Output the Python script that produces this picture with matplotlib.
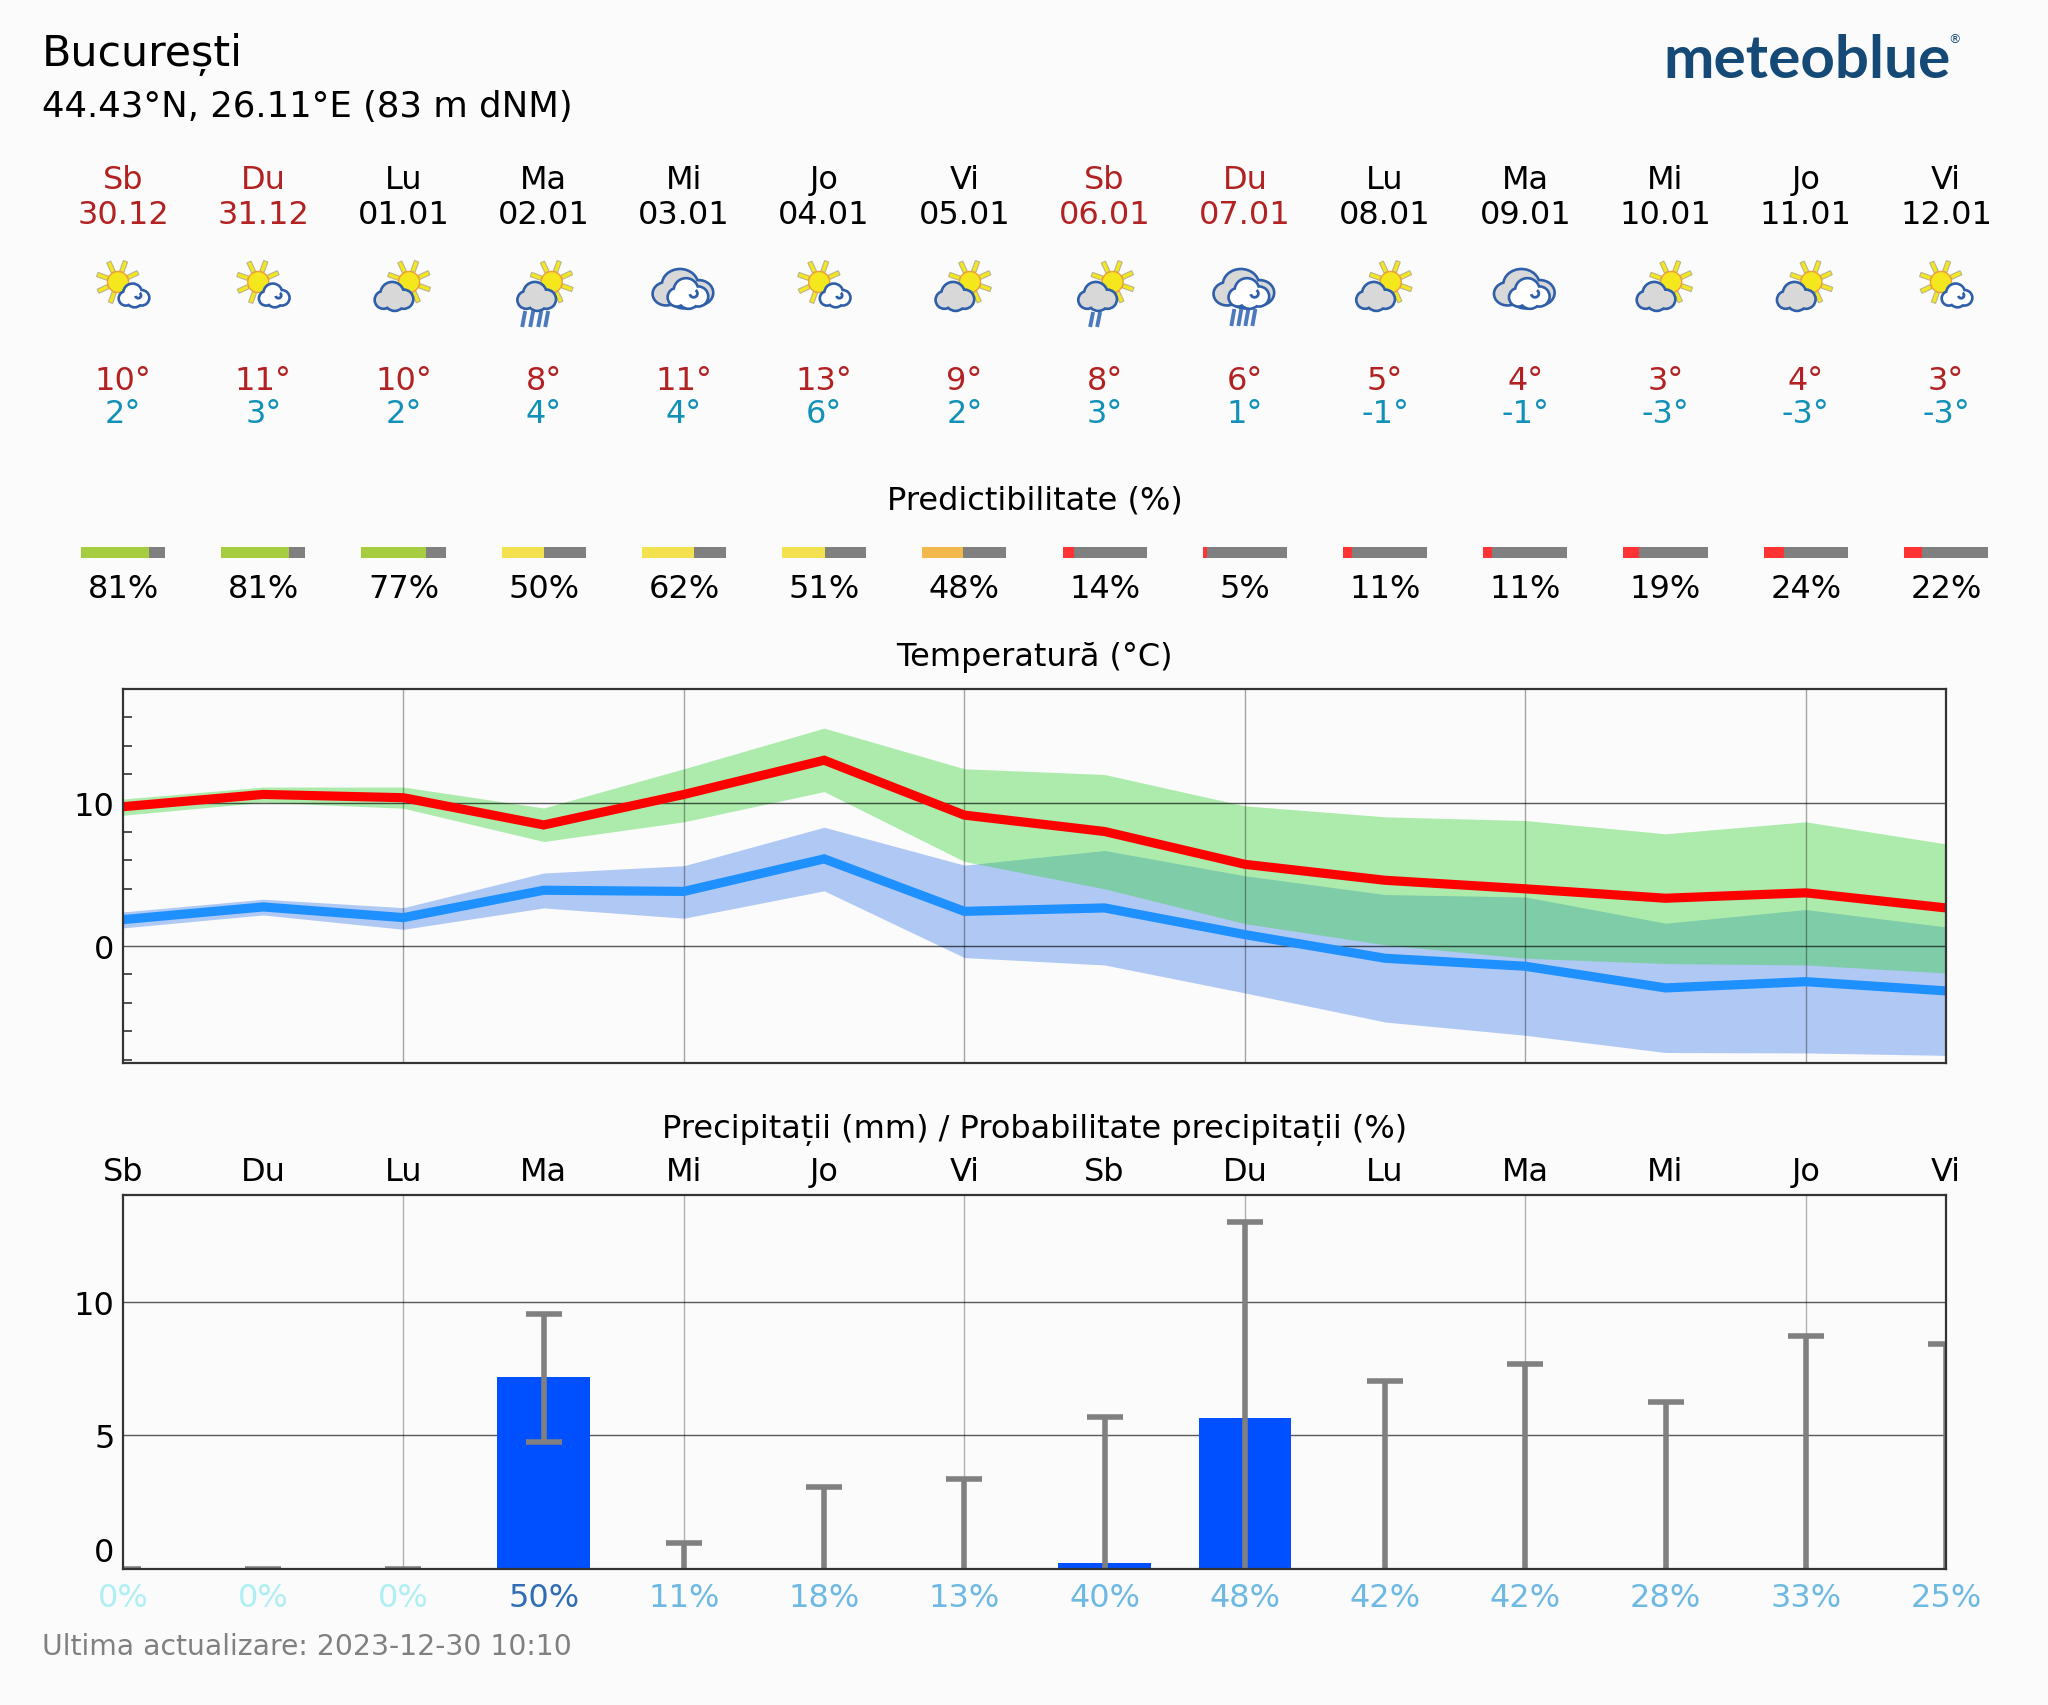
import numpy as np
import matplotlib
matplotlib.use("Agg")
import matplotlib.pyplot as plt
from matplotlib.patches import Circle, Polygon, Ellipse, Arc
from matplotlib.transforms import blended_transform_factory

W, H, DPI = 2048, 1706, 200
BG = "#FBFBFB"

day_names = ["Sb","Du","Lu","Ma","Mi","Jo","Vi","Sb","Du","Lu","Ma","Mi","Jo","Vi"]
dates = ["30.12","31.12","01.01","02.01","03.01","04.01","05.01","06.01","07.01","08.01","09.01","10.01","11.01","12.01"]
weekend = [True,True,False,False,False,False,False,True,True,False,False,False,False,False]
icons = ["sw","sw","sg","sgr3","cc","sw","sg","sgr2","ccr","sg","cc","sg","sg","sw"]
hi_labels = [10,11,10,8,11,13,9,8,6,5,4,3,4,3]
lo_labels = [2,3,2,4,4,6,2,3,1,-1,-1,-3,-3,-3]
predict = [81,81,77,50,62,51,48,14,5,11,11,19,24,22]
rain_prob = [0,0,0,50,11,18,13,40,48,42,42,28,33,25]

tmax = [9.74,10.6,10.37,8.46,10.6,13.0,9.15,8.0,5.7,4.58,3.98,3.32,3.7,2.64]
tmax_hi = [10.28,11.12,11.12,9.65,12.4,15.25,12.4,12.0,9.8,9.03,8.77,7.84,8.68,7.13]
tmax_lo = [9.14,10.05,9.63,7.3,8.68,10.8,5.9,3.98,1.54,0.05,-0.89,-1.26,-1.36,-1.92]
tmin = [1.82,2.71,1.96,3.88,3.8,6.08,2.4,2.64,0.77,-0.89,-1.45,-2.97,-2.53,-3.18]
tmin_hi = [2.36,3.25,2.66,5.09,5.6,8.3,5.64,6.67,4.9,3.58,3.41,1.57,2.53,1.31]
tmin_lo = [1.24,2.15,1.14,2.64,1.92,3.84,-0.84,-1.36,-3.32,-5.36,-6.29,-7.5,-7.53,-7.7]

precip = [0,0,0,7.2,0,0,0,0.22,5.65,0,0,0,0,0]
precip_lo = [0,0,0,4.75,0,0,0,0,0,0,0,0,0,0]
precip_hi = [0,0,0,9.55,0.95,3.05,3.35,5.7,13.0,7.05,7.7,6.25,8.75,8.45]

plt.rcParams["font.family"] = ["DejaVu Sans"]
plt.rcParams["font.size"] = 11.5
fig = plt.figure(figsize=(W/DPI, H/DPI), dpi=DPI, facecolor=BG)

L, R = 123, 1946
def axes_px(x0, y0, x1, y1, **kw):
    return fig.add_axes([x0/W, 1-y1/H, (x1-x0)/W, (y1-y0)/H], **kw)

days = np.arange(14)
XS = (R-L)/13

# header layer: x in day index, y in pixels
hdr = axes_px(0, 0, W, H, facecolor="none")
hdr.set_xlim(-L/XS, (W-L)/XS); hdr.set_ylim(H, 0); hdr.axis("off")
RED, LOW = "#B22222", "#1190B8"
FS = 11.5
for i in days:
    c = RED if weekend[i] else "black"
    hdr.text(i, 180, day_names[i], ha="center", va="center", color=c, fontsize=FS)
    hdr.text(i, 215, dates[i], ha="center", va="center", color=c, fontsize=FS)
    hdr.text(i, 381, f"{hi_labels[i]}°", ha="center", va="center", color=RED, fontsize=FS)
    hdr.text(i, 414, f"{lo_labels[i]}°", ha="center", va="center", color=LOW, fontsize=FS)
    hdr.text(i, 589, f"{predict[i]}%", ha="center", va="center", color="black", fontsize=FS)

def pcol(p):
    if p >= 70: return "#A6CC3F"
    if p >= 50: return "#F3E14F"
    if p >= 30: return "#F2B84B"
    return "#FF3333"
BW = 0.6
pred = np.array(predict)/100
hdr.barh([553.5]*14, BW*pred, 11, left=days-BW/2, color=[pcol(p) for p in predict], linewidth=0)
hdr.barh([553.5]*14, BW*(1-pred), 11, left=days-BW/2+BW*pred, color="#808080", linewidth=0)

LX = (42-L)/XS
hdr.text(LX, 54.5, "București", ha="left", va="center", fontsize=15.4)
hdr.text(LX, 106.5, "44.43°N, 26.11°E (83 m dNM)", ha="left", va="center", fontsize=12.8)
hdr.text(LX, 1647.5, "Ultima actualizare: 2023-12-30 10:10", ha="left", va="center", fontsize=10.2, color="#808080")
hdr.text(6.5, 500.5, "Predictibilitate (%)", ha="center", va="center", fontsize=FS)
hdr.text(6.5, 657.5, "Temperatură (°C)", ha="center", va="center", fontsize=FS)
hdr.text(6.5, 1130.5, "Precipitații (mm) / Probabilitate precipitații (%)", ha="center", va="center", fontsize=FS)
hdr.text((1663-L)/XS, 78, "meteoblue", ha="left", va="baseline", fontsize=21.7, color="#154A77",
         family="Lato", fontweight="bold")
hdr.text((1954-L)/XS, 40, "®", ha="center", va="center", fontsize=4.5, color="#154A77")

# icons layer in pixels
ic = axes_px(0, 0, W, H, facecolor="none")
ic.set_xlim(0, W); ic.set_ylim(H, 0); ic.axis("off"); ic.set_aspect("equal")
EDGE = "#2F5FA8"

def sun(cx, cy):
    for a in np.arange(8)*45 + 20:
        t = np.radians(a)
        d = np.array([np.cos(t), np.sin(t)]); n = np.array([-d[1], d[0]])
        c = np.array([cx, cy])
        p = [c+d*11+n*2.2, c+d*22+n*2.2, c+d*22-n*2.2, c+d*11-n*2.2]
        ic.add_patch(Polygon(p, closed=True, fc="#F5E71E", ec="#B9B48C", lw=0.4, zorder=2))
    ic.add_patch(Circle((cx, cy), 10.5, fc="#F5E71E", ec="#F0A030", lw=0.5, zorder=3))

def cloud(cx, cy, w, h, fill, z=4, curl=False, ky=1.0):
    blobs = [(-0.29, 0.17, 0.21), (-0.05, -0.1, 0.29), (0.27, 0.14, 0.23), (0.02, 0.2, 0.25)]
    pats = [(cx+bx*w, cy+by*h, r*w) for bx, by, r in blobs]
    for x, y, r in pats:
        ic.add_patch(Ellipse((x, y), 2*r, 2*r*ky, fc=EDGE, ec=EDGE, lw=1.9, zorder=z))
    for x, y, r in pats:
        ic.add_patch(Ellipse((x, y), 2*r, 2*r*ky, fc=fill, ec="none", zorder=z+1))
    if curl:
        ic.add_patch(Arc((cx+0.15*w, cy+0.02*h), 0.2*w, 0.2*w, theta1=-60, theta2=170, ec=EDGE, lw=1.0, zorder=z+2))

def rain(xs, y0, y1):
    for x in xs:
        ic.plot([x+1.5, x-1.5], [y0, y1], color="#4C78BE", lw=1.4, zorder=3, solid_capstyle="butt")

for i, kind in enumerate(icons):
    x = L + XS*i
    if kind == "sw":
        sun(x-5, 283); cloud(x+11, 296, 28, 20, "white", curl=True)
    elif kind in ("sg", "sgr3", "sgr2"):
        off = 5.6 if kind == "sg" else 8
        sun(x+off, 283)
        cloud(x-9.5 if kind == "sg" else x-7, 297, 36, 23, "#D8D8D8")
        if kind == "sgr3":
            rain([x-20, x-12, x-4, x+3], 312, 328)
        if kind == "sgr2":
            rain([x-13, x-6], 313, 328)
    else:
        cloud(x-1, 289, 58, 34, "#D8D8D8", z=2, ky=0.85)
        cloud(x+4, 294, 38, 25, "white", z=4, curl=True)
        if kind == "ccr":
            rain([x-12, x-5, x+2, x+9], 310, 327)

# temperature
ax = axes_px(L, 689.5, R, 1063.5, facecolor="none")
ax.set_xlim(0, 13); ax.set_ylim(-8.2, 18.03)
ax.fill_between(days, tmin_lo, tmin_hi, color="#417DEB", alpha=0.4, lw=0, zorder=2)
ax.fill_between(days, tmax_lo, tmax_hi, color="#37D437", alpha=0.4, lw=0, zorder=2.1)
ax.plot(days, tmax, color="#FF0000", lw=3.3, zorder=4, solid_joinstyle="miter")
ax.plot(days, tmin, color="#1E90FF", lw=3.3, zorder=4, solid_joinstyle="miter")
ax.set_yticks([0, 10]); ax.set_yticks(np.arange(-8, 19, 2), minor=True)
ax.tick_params(axis="y", which="major", length=0, pad=3, labelsize=FS)
ax.tick_params(axis="y", which="minor", direction="in", length=3.2, width=0.6, color="#333333")
ax.set_xticks(np.arange(2, 13, 2)); ax.tick_params(axis="x", length=0, labelbottom=False)
ax.grid(axis="x", color="black", alpha=0.35, lw=0.5, zorder=3)
ax.grid(axis="y", color="black", alpha=0.65, lw=0.5, zorder=3)
ax.set_axisbelow(False)

# precipitation
ap = axes_px(L, 1195.5, R, 1569.5, facecolor="none")
ap.set_xlim(0, 13); ap.set_ylim(0, 14.05)
ap.bar(days, precip, 0.66, color="#0050FF", zorder=2, linewidth=0)
GR = "#808080"
ap.vlines(days, precip_lo, precip_hi, color=GR, lw=2.0, zorder=5)
ap.plot(days, precip_hi, ls="none", marker="_", ms=13, mew=2.0, color=GR, zorder=5)
lo_idx = [i for i in days if precip_lo[i] > 0]
ap.plot(lo_idx, [precip_lo[i] for i in lo_idx], ls="none", marker="_", ms=13, mew=2.0, color=GR, zorder=5)
ap.set_yticks([0, 5, 10])
ap.tick_params(axis="y", length=0, pad=3, labelsize=FS)
ap.get_yticklabels()[0].set_va("bottom")
ap.set_xticks(days); ap.set_xticklabels(day_names, fontsize=FS)
ap.tick_params(axis="x", length=0, top=False, bottom=False, labeltop=True, labelbottom=False, pad=2.7)
ap.set_axisbelow(True)
for x in np.arange(2, 13, 2):
    ap.axvline(x, color="black", alpha=0.3, lw=0.5, zorder=1)
for y in (5, 10):
    ap.axhline(y, color="black", alpha=0.65, lw=0.5, zorder=1)

def pc(p):
    if p == 0: return "#AEEFF5"
    if p >= 50: return "#2F6EB5"
    return "#6DB9E3"
tr = blended_transform_factory(ap.transData, hdr.transData)
for i in days:
    ap.text(i, 1598.5, f"{rain_prob[i]}%", transform=tr, ha="center", va="center", fontsize=FS,
            color=pc(rain_prob[i]), clip_on=False)

for a in (ax, ap):
    for s in a.spines.values():
        s.set_color("#333333"); s.set_linewidth(0.8); s.set_zorder(6)

fig.savefig("out.png", dpi=DPI, facecolor=BG)
